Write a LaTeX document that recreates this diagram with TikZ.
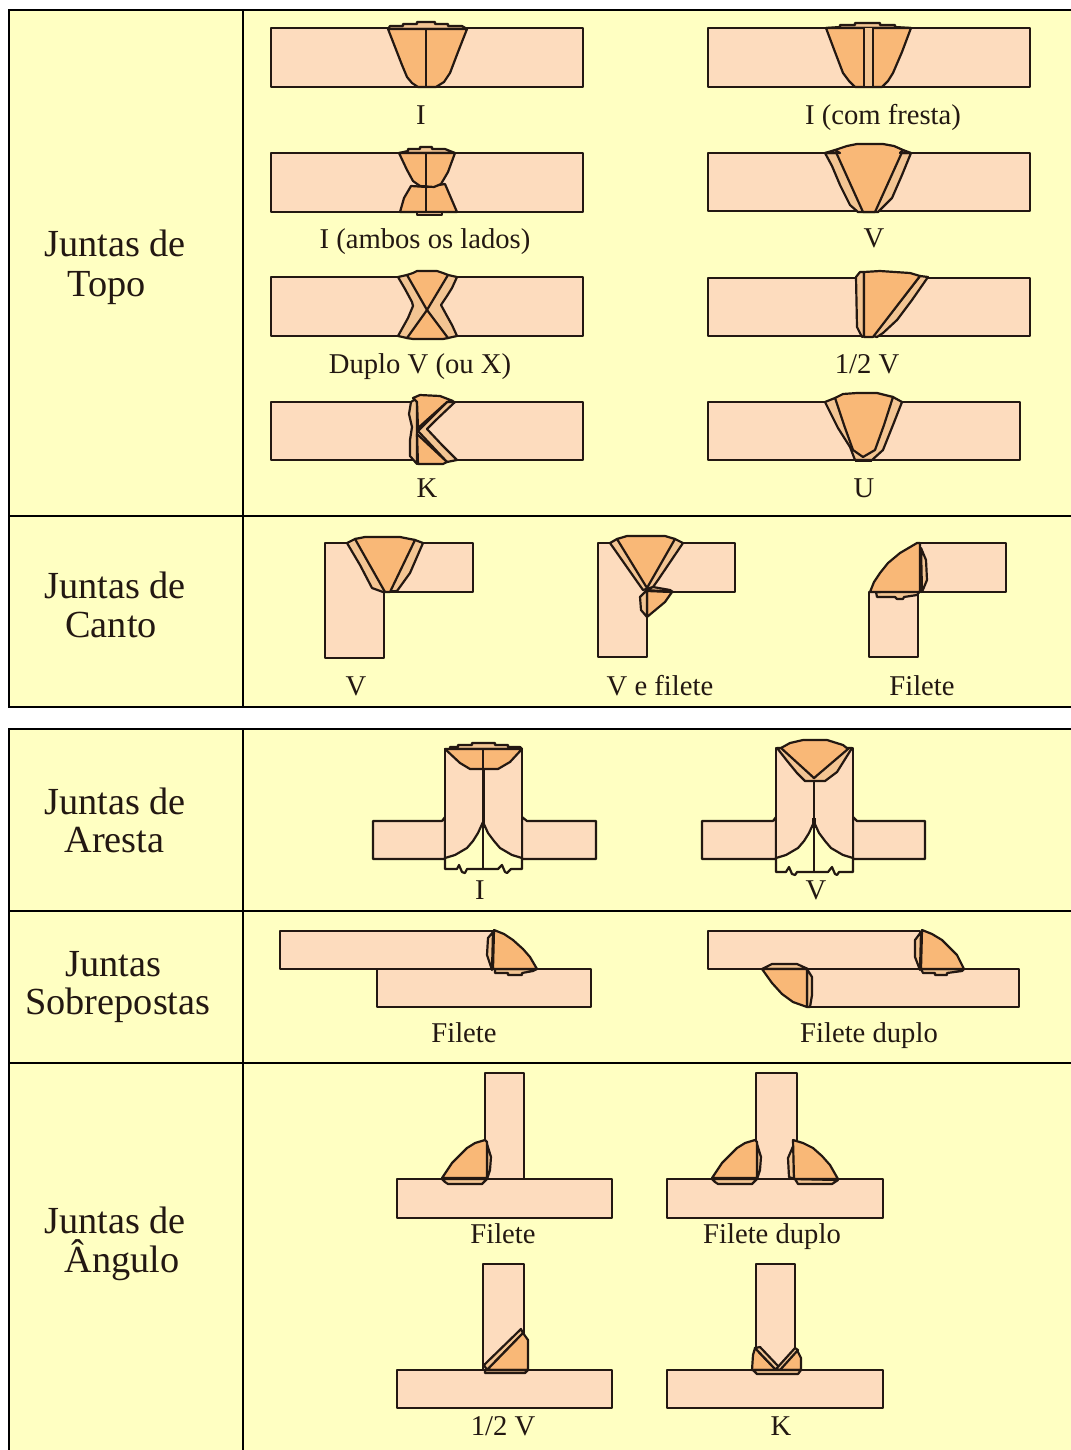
\documentclass[tikz,border=0pt]{standalone}
\usepackage{fontspec}
\setmainfont{Liberation Serif}
\usepackage{tikz}
\usetikzlibrary{positioning}
\definecolor{cellyellow}{HTML}{FFFFC2}
\definecolor{platepeach}{HTML}{FDDCBE}
\definecolor{beadorange}{HTML}{F9B877}
\definecolor{layertan}{HTML}{F3C593}
\definecolor{inkdark}{HTML}{231812}
\tikzstyle{cell} = [fill=cellyellow, draw=black, line width=1.2pt]
\tikzstyle{rule} = [draw=black, line width=1.2pt]
\tikzstyle{plate} = [fill=platepeach, draw=inkdark, line width=1.25pt, line join=round]
\tikzstyle{bead} = [fill=beadorange, draw=inkdark, line width=1.25pt, line join=round]
\tikzstyle{layer} = [fill=layertan, draw=inkdark, line width=1.25pt, line join=round]
\tikzstyle{seam} = [draw=inkdark, line width=1.25pt, line join=round]
\tikzstyle{hollow} = [fill=cellyellow, draw=inkdark, line width=1.25pt, line join=round]
\tikzstyle{caption} = [anchor=base, inner sep=0pt, text=inkdark, font=\fontsize{16.3}{18}\selectfont]
\tikzstyle{rowname} = [anchor=base west, inner sep=0pt, text=inkdark, font=\fontsize{21.8}{24}\selectfont]

\begin{document}
\begin{tikzpicture}[x=0.02cm, y=-0.02cm]
\useasboundingbox (0,0) rectangle (1071,1450);
\fill[white] (0,0) rectangle (1071,1450);

\draw[cell] (9,10) rectangle (1080,707);
\draw[cell] (9,729) rectangle (1080,1460);
\draw[rule] (243,10) -- (243,707);
\draw[rule] (9,516) -- (1080,516);
\draw[rule] (243,729) -- (243,1460);
\draw[rule] (9,911) -- (1080,911);
\draw[rule] (9,1063) -- (1080,1063);

\node (topoa) [rowname] at (44,256) {Juntas de};
\node (topob) [rowname] at (67,296) {Topo};
\node (cantoa) [rowname] at (44,598) {Juntas de};
\node (cantob) [rowname] at (65,637) {Canto};
\node (arestaa) [rowname] at (44,814) {Juntas de};
\node (arestab) [rowname] at (64,852) {Aresta};
\node (sobrea) [rowname] at (65,976) {Juntas};
\node (sobreb) [rowname] at (25,1014) {Sobrepostas};
\node (anguloa) [rowname] at (44,1233) {Juntas de};
\node (angulob) [rowname] at (64,1272) {Ângulo};

% topo
\draw[plate] (271,28) rectangle (583,87);
\draw[layer] (388,29) -- (390,26) -- (403,26) -- (403,24) -- (417,24) -- (417,22) -- (435,22) -- (435,24) -- (448,24) -- (448,26) -- (462,26) -- (467,29) -- cycle;
\draw[bead] (388,29) -- (395,47) -- (402,65) -- (407,77) -- (412,83) -- (418,87) -- (436,87) -- (444,82) -- (450,73) -- (458,52) -- (467,29) -- cycle;
\draw[seam] (426,29) -- (426,87);

\draw[plate] (708,28) rectangle (1030,87);
\draw[layer] (826,28) -- (840,27) -- (840,25) -- (855,25) -- (855,23) -- (880,23) -- (880,25) -- (895,25) -- (895,27) -- (911,28) -- cycle;
\draw[bead] (826,28) -- (835,52) -- (843,73) -- (849,81) -- (855,87) -- (882,87) -- (888,81) -- (893,73) -- (902,52) -- (911,28) -- cycle;
\draw[layer] (864,28) -- (864,87) -- (873,87) -- (873,28);

\draw[plate] (271,153) rectangle (583,212);
\draw[layer] (399,153) -- (408,151) -- (408,149) -- (420,149) -- (420,147) -- (432,147) -- (432,149) -- (445,149) -- (455,153) -- cycle;
\draw[layer] (405,212) -- (417,212) -- (417,215) -- (442,215) -- (442,212) -- (452,212) -- cycle;
\draw[bead] (400,212) -- (404,198) -- (411,186) -- (427,187) -- (445,184) -- (451,198) -- (457,212) -- cycle;
\draw[bead] (399,153) -- (407,170) -- (413,181) -- (420,186) -- (434,187) -- (441,184) -- (448,172) -- (455,153) -- cycle;
\draw[seam] (426,153) -- (426,212);

\draw[plate] (708,153) rectangle (1030,211);
\draw[layer] (825,153) -- (832,166) -- (840,185) -- (850,205) -- (858,212) -- (878,212) -- (892,198) -- (902,175) -- (911,153) -- cycle;
\draw[bead] (835,150) -- (847,146) -- (857,144) -- (883,144) -- (894,146) -- (903,150) -- (875,212) -- (863,212) -- cycle;
\draw[layer] (825,153) -- (835,150) -- (840,153) -- cycle;
\draw[layer] (911,153) -- (903,150) -- (900,153) -- cycle;

\draw[plate] (271,277) rectangle (583,336);
\draw[layer] (398,277) -- (405,289) -- (412,302) -- (413,306) -- (408,318) -- (403,327) -- (398,336) -- (407,338) -- (448,338) -- (457,336) -- (452,325) -- (447,316) -- (441,305) -- (447,296) -- (452,288) -- (457,277) -- (448,275) -- (407,275) -- cycle;
\draw[bead] (407,275) -- (413,273) -- (417,271) -- (437,271) -- (443,273) -- (448,275) -- (427,310) -- cycle;
\draw[bead] (407,338) -- (413,339) -- (443,339) -- (448,338) -- (427,310) -- cycle;

\draw[plate] (708,278) rectangle (1030,336);
\draw[layer] (856,277) -- (860,272) -- (864,272) -- (864,336) -- (862,337) -- (857,327) -- cycle;
\draw[layer] (920,276) -- (928,277) -- (912,300) -- (897,320) -- (883,333) -- (877,337) -- (873,336) -- cycle;
\draw[bead] (864,272) -- (880,271) -- (910,273) -- (920,276) -- (873,337) -- (864,337) -- cycle;

\draw[plate] (271,402) rectangle (583,460);
\draw[layer] (417,398) -- (411,402) -- (409,414) -- (412,427) -- (410,440) -- (410,456) -- (417,464) -- cycle;
\draw[layer] (447,402) -- (455,402) -- (436,420) -- (427,429) -- (442,445) -- (457,460) -- (447,462) -- (418,431) -- cycle;
\draw[bead] (417,402) -- (413,398) -- (420,395) -- (440,396) -- (453,401) -- (447,402) -- (418,428) -- cycle;
\draw[bead] (417,434) -- (447,462) -- (443,464) -- (418,464) -- cycle;

\draw[plate] (708,402) rectangle (1020,460);
\draw[layer] (825,402) -- (838,428) -- (850,447) -- (855,460) -- (872,460) -- (883,450) -- (893,425) -- (902,402) -- (893,397) -- (835,398) -- cycle;
\draw[bead] (835,398) -- (843,394) -- (857,393) -- (877,393) -- (893,397) -- (884,425) -- (875,450) -- (863,457) -- (853,450) -- (844,425) -- cycle;
\draw[seam] (855,461) -- (872,461);

\node (topoI) [caption] at (421,124) {I};
\node (topoIf) [caption] at (883,124) {I (com fresta)};
\node (topoIa) [caption] at (425,248) {I (ambos os lados)};
\node (topoV) [caption] at (874,247) {V};
\node (topoX) [caption] at (420,373) {Duplo V (ou X)};
\node (topoMV) [caption] at (867,373) {1/2 V};
\node (topoK) [caption] at (427,497) {K};
\node (topoU) [caption] at (864,497) {U};

% canto
\draw[plate] (325,543) -- (473,543) -- (473,592) -- (384,592) -- (384,658) -- (325,658) -- cycle;
\draw[layer] (347,543) -- (360,565) -- (372,588) -- (383,592) -- (397,591) -- (410,573) -- (423,543) -- (415,540) -- (355,539) -- cycle;
\draw[bead] (355,539) -- (365,537) -- (400,537) -- (415,540) -- (390,592) -- (385,592) -- cycle;

\draw[plate] (598,543) -- (735,543) -- (735,592) -- (647,592) -- (647,657) -- (598,657) -- cycle;
\draw[bead] (647,591) -- (672,592) -- (665,602) -- (647,617) -- cycle;
\draw[layer] (647,590) -- (640,597) -- (641,610) -- (647,617) -- cycle;
\draw[layer] (610,543) -- (643,590) -- (653,587) -- (670,590) -- (673,592) -- (647,590) -- (653,587) -- (658,580) -- (683,543) -- (675,539) -- (617,539) -- cycle;
\draw[bead] (617,539) -- (627,536) -- (665,536) -- (675,539) -- (647,588) -- cycle;

\draw[plate] (869,592) rectangle (918,657);
\draw[plate] (920,543) rectangle (1006,592);
\draw[layer] (921,548) -- (926,560) -- (927,580) -- (922,592) -- cycle;
\draw[layer] (876,592) -- (877,597) -- (895,597) -- (897,599) -- (903,599) -- (904,597) -- (917,595) -- (920,591) -- cycle;
\draw[bead] (917,543) -- (900,553) -- (888,563) -- (880,573) -- (874,582) -- (870,592) -- (920,592) -- (920,543) -- cycle;

\node (cantoV) [caption] at (356,695) {V};
\node (cantoVf) [caption] at (660,695) {V e filete};
\node (cantoF) [caption] at (922,695) {Filete};

% aresta
\draw[plate] (373,821) -- (442,821) -- (445,817) -- (445,859) -- (373,859) -- cycle;
\draw[plate] (596,821) -- (527,821) -- (522,817) -- (522,859) -- (596,859) -- cycle;
\draw[plate] (445,749) rectangle (522,858);
\draw[hollow] (445,858) -- (455,855) -- (467,848) -- (473,841) -- (478,833) -- (483,822) -- (488,833) -- (494,841) -- (500,848) -- (512,855) -- (522,858) -- (522,869) -- (511,869) -- (507,873) -- (505,872) -- (502,865) -- (498,869) -- (467,869) -- (465,873) -- (462,872) -- (459,865) -- (457,869) -- (445,869) -- cycle;
\draw[seam] (483,769) -- (483,869);
\draw[seam, line width=1.6pt] (484,769) -- (484,828);
\draw[layer] (450,749) -- (450,747) -- (458,747) -- (458,745) -- (472,745) -- (472,743) -- (495,743) -- (495,745) -- (508,745) -- (508,747) -- (520,747) -- (522,749) -- cycle;
\draw[bead] (445,749) -- (460,763) -- (470,769) -- (498,769) -- (510,762) -- (522,749) -- cycle;
\draw[seam] (483,749) -- (483,769);

\draw[plate] (702,821) -- (773,821) -- (776,817) -- (776,859) -- (702,859) -- cycle;
\draw[plate] (925,821) -- (857,821) -- (853,817) -- (853,859) -- (925,859) -- cycle;
\draw[plate] (776,748) rectangle (853,858);
\draw[hollow] (776,858) -- (786,855) -- (798,848) -- (804,841) -- (809,833) -- (814,822) -- (819,833) -- (825,841) -- (831,848) -- (843,855) -- (853,858) -- (853,872) -- (839,872) -- (837,875) -- (835,874) -- (832,867) -- (828,872) -- (797,872) -- (795,875) -- (792,874) -- (789,867) -- (786,872) -- (776,872) -- cycle;
\draw[seam] (814,781) -- (814,872);
\draw[seam, line width=2.4pt] (814,818) -- (814,828);
\draw[layer] (777,748) -- (788,762) -- (797,773) -- (805,781) -- (825,781) -- (837,772) -- (852,748) -- (843,748) -- (814,778) -- (787,748) -- cycle;
\draw[bead] (781,748) -- (790,743) -- (803,740) -- (827,740) -- (843,745) -- (848,749) -- (814,778) -- cycle;

\node (arestaI) [caption] at (480,899) {I};
\node (arestaV) [caption] at (816,899) {V};

% sobrepostas
\draw[plate] (377,969) rectangle (591,1007);
\draw[plate] (280,931) rectangle (493,969);
\draw[layer] (493,932) -- (488,938) -- (487,955) -- (492,970) -- cycle;
\draw[layer] (495,969) -- (495,973) -- (508,973) -- (508,975) -- (522,975) -- (522,973) -- (533,971) -- (537,969) -- cycle;
\draw[bead] (494,930) -- (504,934) -- (513,940) -- (523,949) -- (530,957) -- (537,969) -- (493,969) -- cycle;

\draw[plate] (808,969) rectangle (1019,1007);
\draw[plate] (708,931) rectangle (920,969);
\draw[layer] (921,932) -- (915,940) -- (915,957) -- (920,970) -- cycle;
\draw[layer] (921,969) -- (923,973) -- (935,973) -- (935,975) -- (947,975) -- (947,973) -- (962,971) -- (964,969) -- cycle;
\draw[bead] (922,930) -- (932,934) -- (942,940) -- (950,948) -- (957,955) -- (964,969) -- (921,969) -- cycle;
\draw[layer] (762,969) -- (772,964) -- (797,964) -- (808,969) -- cycle;
\draw[layer] (807,969) -- (812,977) -- (812,995) -- (810,1007) -- (807,1007) -- cycle;
\draw[bead] (762,969) -- (772,983) -- (782,994) -- (793,1002) -- (807,1007) -- (807,969) -- cycle;

\node (sobreF) [caption] at (464,1042) {Filete};
\node (sobreD) [caption] at (869,1042) {Filete duplo};

% angulo
\draw[plate] (485,1073) rectangle (524,1179);
\draw[plate] (397,1179) rectangle (612,1218);
\draw[layer] (487,1144) -- (491,1157) -- (490,1170) -- (487,1179) -- cycle;
\draw[layer] (442,1179) -- (445,1182) -- (448,1184) -- (482,1184) -- (487,1179) -- cycle;
\draw[bead] (485,1140) -- (475,1143) -- (467,1148) -- (452,1163) -- (442,1178) -- (487,1178) -- (487,1142) -- cycle;

\draw[plate] (756,1073) rectangle (797,1179);
\draw[plate] (667,1179) rectangle (883,1218);
\draw[layer] (757,1144) -- (761,1157) -- (760,1170) -- (757,1179) -- cycle;
\draw[layer] (712,1179) -- (715,1182) -- (718,1184) -- (752,1184) -- (757,1179) -- cycle;
\draw[bead] (755,1140) -- (745,1143) -- (737,1148) -- (722,1163) -- (712,1178) -- (757,1178) -- (757,1142) -- cycle;
\draw[layer] (794,1144) -- (788,1158) -- (789,1177) -- (794,1179) -- cycle;
\draw[layer] (795,1179) -- (798,1184) -- (832,1184) -- (838,1180) -- cycle;
\draw[bead] (793,1140) -- (803,1143) -- (813,1148) -- (822,1156) -- (830,1165) -- (838,1179) -- (794,1179) -- cycle;

\node (anguloF) [caption] at (503,1243) {Filete};
\node (anguloD) [caption] at (772,1243) {Filete duplo};

\draw[plate] (483,1264) rectangle (524,1370);
\draw[plate] (397,1370) rectangle (612,1408);
\draw[layer] (484,1365) -- (521,1329) -- (523,1333) -- (487,1370) -- cycle;
\draw[bead] (487,1370) -- (523,1333) -- (528,1340) -- (528,1370) -- cycle;
\draw[layer] (485,1370) -- (485,1373) -- (525,1373) -- (528,1370) -- cycle;

\draw[plate] (756,1264) rectangle (795,1370);
\draw[plate] (667,1370) rectangle (883,1408);
\draw[bead] (755,1348) -- (753,1355) -- (752,1370) -- (776,1370) -- cycle;
\draw[layer] (755,1348) -- (760,1347) -- (779,1367) -- (776,1370) -- cycle;
\draw[bead] (779,1370) -- (797,1350) -- (801,1358) -- (801,1370) -- cycle;
\draw[layer] (776,1369) -- (795,1348) -- (798,1350) -- (780,1370) -- cycle;
\draw[layer] (753,1370) -- (757,1374) -- (798,1374) -- (801,1370) -- cycle;

\node (anguloMV) [caption] at (503,1435) {1/2 V};
\node (anguloK) [caption] at (781,1435) {K};

\end{tikzpicture}
\end{document}
